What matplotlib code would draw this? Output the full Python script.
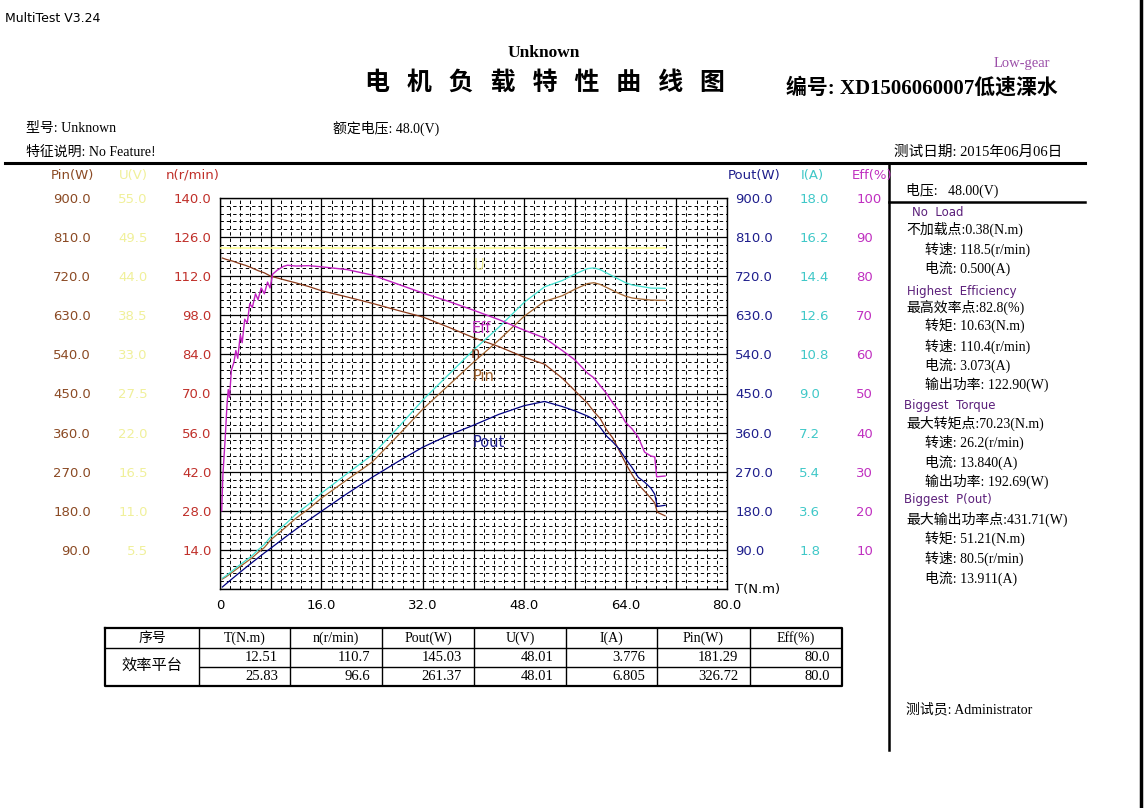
import numpy as np
import matplotlib
matplotlib.use('Agg')
import matplotlib.pyplot as plt
from matplotlib.lines import Line2D

W, H = 1144, 808

# test samples
torque = [0.38, 1, 2, 3, 4, 5, 6, 7, 8, 10.63, 12, 14, 16, 20, 24, 28, 32, 36, 40,
          44, 48, 51.21, 54, 56, 58, 59, 60, 61, 62, 63, 64, 65, 66, 67, 68, 68.6, 69, 70.23]
speed = [118.5, 118.0, 117.4, 116.6, 115.9, 115.0, 114.0, 113.2, 112.0, 110.4, 109.6, 108.3,
         106.8, 104.6, 102.3, 99.8, 97.4, 93.8, 90.0, 86.8, 83.0, 80.5, 75.5, 71.0, 66.5,
         63.5, 61.0, 57.0, 54.0, 49.5, 45.0, 41.0, 37.5, 35.0, 32.5, 30.8, 27.5, 26.2]
current = [0.50, 0.62, 0.85, 1.08, 1.30, 1.52, 1.80, 2.05, 2.40, 3.07, 3.45, 3.90, 4.41,
           5.30, 6.17, 7.40, 8.70, 9.85, 11.0, 12.05, 13.2, 13.91, 14.2, 14.5, 14.75, 14.78,
           14.7, 14.55, 14.4, 14.25, 14.1, 14.0, 13.95, 13.9, 13.85, 13.85, 13.85, 13.84]
power_in = [23.0, 28.5, 39.0, 50.0, 60.5, 71.0, 84.0, 95.5, 113.0, 145.5, 163.0, 184.5, 209.0,
            251.0, 292.0, 352.0, 414.0, 468.0, 522.0, 573.0, 628.0, 662.0, 675.0, 690.0, 703.0,
            705.0, 701.0, 694.0, 687.0, 680.0, 674.0, 670.0, 668.0, 666.5, 665.0, 665.0, 664.5, 664.3]
power_out = [4.7, 12.4, 24.6, 36.6, 48.5, 60.2, 71.6, 83.0, 93.8, 122.9, 137.7, 158.7, 178.9,
             219.0, 257.0, 292.5, 326.4, 353.6, 377.0, 402.0, 422.0, 431.7, 420.0, 410.0, 398.0,
             390.0, 372.0, 352.0, 338.0, 322.0, 300.0, 280.0, 257.0, 246.0, 232.0, 218.0, 190.0, 192.7]

eff_torque = [0.27, 0.45, 0.8, 1.1, 1.3, 1.5, 1.8, 2.2, 2.5, 2.8, 3.2, 3.5, 3.9, 4.3, 4.7, 5.1,
              5.6, 6.0, 6.5, 7.0, 7.5, 7.9, 8.3, 9.0, 10.0, 10.63, 12, 14, 16, 20, 24, 28, 32,
              36, 40, 44, 48, 51.21, 54, 56, 58, 59, 60, 61, 62, 63, 64, 65, 66, 67, 68, 68.6,
              68.9, 70.23]
efficiency = [20, 29, 38, 47, 51, 49, 56, 58, 61, 59, 65, 63, 69, 68, 73, 72, 75.5, 74, 77,
              75.5, 78.5, 77, 80.5, 81.5, 82.5, 82.8, 82.6, 82.7, 82.4, 81.7, 80.3, 78.0, 75.7,
              73.6, 71.3, 68.9, 66.2, 64.2, 61.0, 58.6, 55.2, 54.0, 52.0, 50.0, 47.5, 45.5,
              42.6, 41.0, 38.8, 35.0, 34.0, 33.8, 28.7, 28.9]

volt_torque = [0.0, 70.23]
voltage = [48.0, 48.0]

table_header = ['序号', 'T(N.m)', 'n(r/min)', 'Pout(W)', 'U(V)', 'I(A)', 'Pin(W)', 'Eff(%)']
table_rows = [['12.51', '110.7', '145.03', '48.01', '3.776', '181.29', '80.0'],
              ['25.83', '96.6', '261.37', '48.01', '6.805', '326.72', '80.0']]

panel = [
    ('head', 'No  Load'),
    ('main', '不加载点:0.38(N.m)'),
    ('sub', '转速: 118.5(r/min)'),
    ('sub', '电流: 0.500(A)'),
    ('head', 'Highest  Efficiency'),
    ('main', '最高效率点:82.8(%)'),
    ('sub', '转矩: 10.63(N.m)'),
    ('sub', '转速: 110.4(r/min)'),
    ('sub', '电流: 3.073(A)'),
    ('sub', '输出功率: 122.90(W)'),
    ('head', 'Biggest  Torque'),
    ('main', '最大转矩点:70.23(N.m)'),
    ('sub', '转速: 26.2(r/min)'),
    ('sub', '电流: 13.840(A)'),
    ('sub', '输出功率: 192.69(W)'),
    ('head', 'Biggest  P(out)'),
    ('main', '最大输出功率点:431.71(W)'),
    ('sub', '转矩: 51.21(N.m)'),
    ('sub', '转速: 80.5(r/min)'),
    ('sub', '电流: 13.911(A)'),
]
panel_y = [213, 229, 249, 268, 291, 307, 326, 346, 365, 384, 405, 423, 442, 462, 481,
           500, 519, 539, 558, 578]
head_x = [912, 907, 904, 904]

SERIF = ['Liberation Serif', 'Noto Sans CJK SC']
CJK = ['Noto Sans CJK SC', 'DejaVu Sans']
SANS = ['DejaVu Sans']

c_pin, c_u, c_n = '#8B4A24', '#F0F09A', '#C0302A'
c_pout, c_i, c_eff = '#1E1E8C', '#40C8C8', '#C030C0'


def fx(px):
    return px / W


def fy(py):
    return 1 - py / H


fig = plt.figure(figsize=(W / 100, H / 100), dpi=100)
fig.patch.set_facecolor('white')

# main chart
ax = fig.add_axes([fx(220), fy(589), (727 - 220) / W, (589 - 198) / H])
ax.set_xlim(0, 80)
ax.set_ylim(0, 900)
ax.set_xticks(np.arange(0, 81, 8))
ax.set_xticklabels(['0' if v == 0 else ('%.1f' % v if v % 16 == 0 else '')
                    for v in np.arange(0, 81, 8)], family=SANS, fontsize=9.5)
ax.set_xticks(np.arange(0, 80.01, 1.6), minor=True)
ax.set_yticks(np.arange(0, 901, 90))
ax.set_yticks(np.arange(0, 900.1, 18), minor=True)
ax.tick_params(which='both', length=0)
ax.tick_params(axis='x', pad=7)
ax.tick_params(axis='y', labelleft=False)
ax.grid(which='major', color='black', lw=0.9)
ax.grid(which='minor', color='black', lw=0.7, linestyle=(0, (3.5, 3)))
for s in ax.spines.values():
    s.set_linewidth(1.0)

ax.plot(volt_torque, [v / 55 * 900 for v in voltage], color='#FFFF90', lw=1.1, zorder=3)
ax.plot(torque, power_in, color='#A0622E', lw=0.9, zorder=3)


def twin(ylim, side, pad, ticks, fmt, color):
    t = ax.twinx()
    t.set_ylim(*ylim)
    for s in t.spines.values():
        s.set_visible(False)
    t.set_yticks(ticks)
    t.set_yticklabels([fmt % v for v in ticks], family=SANS, fontsize=9.5, color=color)
    if side == 'left':
        t.yaxis.tick_left()
    else:
        t.yaxis.tick_right()
    t.tick_params(length=0, pad=pad)
    return t


ax_pin = twin((0, 900), 'left', 93, np.arange(90, 901, 90), '%.1f', c_pin)
ax_u = twin((0, 55), 'left', 52, np.arange(1, 11) * 5.5, '%.1f', c_u)
ax_n = twin((0, 140), 'left', 6, np.arange(14, 141, 14), '%.1f', c_n)
ax_pout = twin((0, 900), 'right', 6, np.arange(90, 901, 90), '%.1f', c_pout)
ax_i = twin((0, 18), 'right', 52, np.arange(1, 11) * 1.8, '%.1f', c_i)
ax_eff = twin((0, 100), 'right', 93, np.arange(10, 101, 10), '%d', c_eff)

ax_n.plot(torque, speed, color='#8B3A1A', lw=0.9)
ax_i.plot(torque, current, color='#40E0D0', lw=0.9)
ax_pout.plot(torque, power_out, color='#000080', lw=0.9)
ax_eff.plot(eff_torque, efficiency, color='#C020C0', lw=1.0)

# curve names, drawn on the top axes in Pin-scale data coordinates
lbl = dict(transform=ax.transData, family=SANS, fontsize=10.5, zorder=10, va='center')
ax_eff.text(40.0, 745, 'U', color='#E8E890', **lbl)
ax_eff.text(39.7, 600, 'Eff', color=c_eff, **lbl)
ax_eff.text(39.5, 542, 'n', color='#8B3A1A', **lbl)
ax_eff.text(39.8, 490, 'Pin', color='#A0622E', **lbl)
ax_eff.text(39.8, 338, 'Pout', color=c_pout, **lbl)
ax_eff.text(1.015, 0.0, 'T(N.m)', transform=ax.transAxes, family=SANS, fontsize=9.5,
            va='center', ha='left')

# axis headers
hdr = dict(family=SANS, fontsize=9.5, ha='center', va='center')
fig.text(fx(72), fy(175), 'Pin(W)', color=c_pin, **hdr)
fig.text(fx(133), fy(175), 'U(V)', color=c_u, **hdr)
fig.text(fx(193), fy(175), 'n(r/min)', color=c_n, **hdr)
fig.text(fx(754), fy(175), 'Pout(W)', color=c_pout, **hdr)
fig.text(fx(812), fy(175), 'I(A)', color=c_i, **hdr)
fig.text(fx(872), fy(175), 'Eff(%)', color=c_eff, **hdr)

# header texts
fig.text(fx(5), fy(18), 'MultiTest V3.24', family=SANS, fontsize=9, va='center')
fig.text(fx(544), fy(53), 'Unknown', family=SERIF, fontsize=12.5, weight='bold',
         ha='center', va='center')
fig.text(fx(545), fy(83), '电   机   负   载   特   性   曲   线   图', family=CJK,
         fontsize=18, weight='bold', ha='center', va='center')
fig.text(fx(1022), fy(63), 'Low-gear', family=SERIF, fontsize=10.5, color='#9B4FA8',
         ha='center', va='center')
fig.text(fx(786), fy(88), '编号: XD1506060007低速溧水', family=SERIF, fontsize=15,
         weight='bold', ha='left', va='center')
info = dict(family=SERIF, fontsize=10, va='center')
fig.text(fx(26), fy(128), '型号: Unknown', ha='left', **info)
fig.text(fx(333), fy(128), '额定电压: 48.0(V)', ha='left', **info)
fig.text(fx(26), fy(152), '特征说明: No Feature!', ha='left', **info)
fig.text(fx(1062), fy(152), '测试日期: 2015年06月06日', ha='right', family=SERIF,
         fontsize=10.5, va='center')

# frame lines
for x0, y0, x1, y1, lw in [(5, 163, 1085, 163, 2.2), (889, 163, 889, 750, 1.8),
                           (889, 202, 1085, 202, 1.8), (1141, 0, 1141, 808, 2.5)]:
    fig.add_artist(Line2D([fx(x0), fx(x1)], [fy(y0), fy(y1)], color='black', lw=lw))

# right panel
fig.text(fx(906), fy(190), '电压:   48.00(V)', ha='left', **info)
heads = iter(head_x)
for (kind, txt), py in zip(panel, panel_y):
    if kind == 'head':
        fig.text(fx(next(heads)), fy(py), txt, family=SANS, fontsize=8.5, color='#5B1F7A',
                 ha='left', va='center')
    else:
        fig.text(fx(906 if kind == 'main' else 925), fy(py), txt, ha='left', **info)
fig.text(fx(906), fy(710), '测试员: Administrator', ha='left', **info)

# table
col_edges = [105, 199, 290, 382, 474, 566, 657, 750, 842]
row_edges = [628, 648, 667, 686]
tab = fig.add_axes([fx(105), fy(686), (842 - 105) / W, (686 - 628) / H])
tab.set_xlim(105, 842)
tab.set_ylim(686, 628)
tab.axis('off')
tab.plot([105, 842, 842, 105, 105], [628, 628, 686, 686, 628], color='black', lw=1.6,
         clip_on=False)
tab.hlines(648, 105, 842, color='black', lw=1)
tab.hlines(667, 199, 842, color='black', lw=1)
tab.vlines(col_edges[1:-1], 628, 686, color='black', lw=1)
for j, h in enumerate(table_header):
    tab.text((col_edges[j] + col_edges[j + 1]) / 2, 638.5, h, family=SERIF, fontsize=10,
             ha='center', va='center')
tab.text((col_edges[0] + col_edges[1]) / 2, 667, '效率平台', family=SERIF, fontsize=11,
         ha='center', va='center')
for r, row in enumerate(table_rows):
    yc = (row_edges[r + 1] + row_edges[r + 2]) / 2
    for j, v in enumerate(row):
        tab.text(col_edges[j + 2] - 12, yc, v, family=SERIF, fontsize=10.5,
                 ha='right', va='center')

fig.savefig('out.png', dpi=100, facecolor='white')
